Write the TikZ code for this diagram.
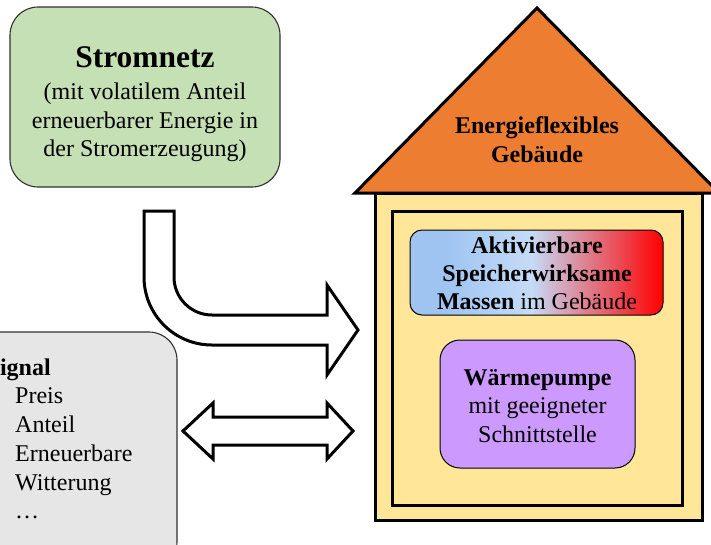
\documentclass[tikz,border=0pt]{standalone}
\usepackage{fontspec}
\setmainfont{Liberation Serif}
\definecolor{netzgreen}{HTML}{C5E0B4}
\definecolor{signalgray}{HTML}{E7E6E6}
\definecolor{rooforange}{HTML}{ED7D31}
\definecolor{wallyellow}{HTML}{FFE699}
\definecolor{pumppurple}{HTML}{CC99FF}
\definecolor{massblue}{HTML}{9FC4F1}
\definecolor{massmid}{HTML}{B0CFF4}
\definecolor{masslight}{HTML}{C6DBF6}
\definecolor{boxborder}{HTML}{303030}
\pgfdeclarehorizontalshading{massgrad}{100bp}{%
  color(0bp)=(massblue); color(25bp)=(massblue); color(32bp)=(massblue);
  color(40bp)=(massmid); color(49bp)=(masslight);
  color(75bp)=(red); color(100bp)=(red)}
\tikzset{
  txt/.style={anchor=base, inner sep=0pt, font=\fontsize{24}{29}\selectfont},
  txtb/.style={txt, font=\fontsize{24}{29}\selectfont\bfseries},
  thickline/.style={draw=black, line width=3pt, line join=miter},
  softbox/.style={draw=boxborder, line width=1.1pt},
}
\begin{document}
\begin{tikzpicture}[x=1pt,y=-1pt]
\useasboundingbox (0,0) rectangle (711,544);

% Stromnetz box
\path[softbox, fill=netzgreen, rounded corners=28pt] (10,7) rectangle (280,187);
\node[txt, font=\fontsize{31.5}{34}\selectfont\bfseries] (t1) at (145,67) {Stromnetz};
\node[txt] (t2) at (145,99) {(mit volatilem Anteil};
\node[txt] (t3) at (145,128) {erneuerbarer Energie in};
\node[txt] (t4) at (145,156) {der Stromerzeugung)};

% Signal box
\path[softbox, fill=signalgray, rounded corners=28pt] (-40,332) rectangle (177,570);
\node[txtb, anchor=base west] (s0) at (-13.5,375) {Signal};
\node[txt, anchor=base west] (s1) at (15,403) {Preis};
\node[txt, anchor=base west] (s2) at (15,432) {Anteil};
\node[txt, anchor=base west] (s3) at (15,461) {Erneuerbare};
\node[txt, anchor=base west] (s4) at (15,490) {Witterung};
\node[txt, anchor=base west] (s5) at (15,518) {\dots};

% bent arrow
\draw[thickline, fill=white] (144,211) -- (174,211) -- (174,277)
  .. controls (174,298) and (191,315) .. (212,315)
  -- (327,315) -- (327,285) -- (358,330) -- (327,375) -- (327,345)
  -- (212,345) .. controls (174.4,345) and (144,314.6) .. (144,277) -- cycle;

% double arrow
\draw[thickline, fill=white] (183,431) -- (213,403) -- (213,417) -- (327,417)
  -- (327,403) -- (353,431) -- (327,459) -- (327,445) -- (213,445)
  -- (213,459) -- cycle;

% house body
\path[thickline, fill=wallyellow] (375,193) rectangle (702,520);
\path[thickline] (392,211) rectangle (682,505);
% roof
\path[thickline, fill=rooforange] (355,193) -- (537,8) -- (719,193) -- cycle;
\node[txtb] (r1) at (537,133) {Energieflexibles};
\node[txtb] (r2) at (537,162) {Gebäude};

% storage masses
\path[draw=black, line width=1pt, rounded corners=12pt, shading=massgrad]
  (410,230) rectangle (663,315);
\node[txtb] (m1) at (537,253) {Aktivierbare};
\node[txtb] (m2) at (537,281) {Speicherwirksame};
\node[txt] (m3) at (537,309) {\textbf{Massen} im Gebäude};

% heat pump
\path[draw=black, line width=1pt, rounded corners=20pt, fill=pumppurple]
  (440,340) rectangle (635,468);
\node[txtb] (w1) at (537.5,385) {Wärmepumpe};
\node[txt] (w2) at (537.5,413) {mit geeigneter};
\node[txt] (w3) at (537.5,442) {Schnittstelle};
\end{tikzpicture}
\end{document}
